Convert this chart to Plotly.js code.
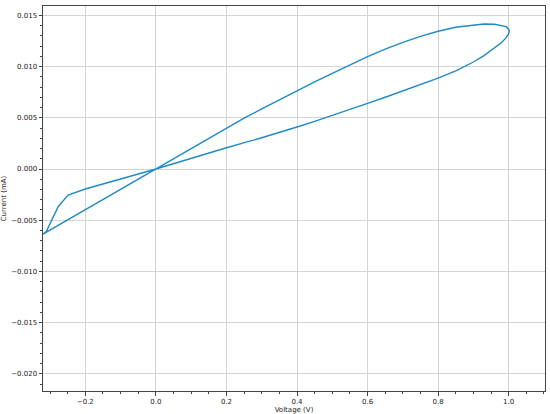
<!DOCTYPE html>
<html>
<head>
<meta charset="utf-8">
<script src="https://cdn.plot.ly/plotly-3.0.1.min.js"></script>
<style>
  html, body { margin: 0; padding: 0; background: #fff; }
  #plotArea { width: 550px; height: 414px; }
</style>
</head>
<body>
<div id="plotArea"></div>
<script>
// sweep up (forward branch) then back down (return branch)
let voltage = [
  -0.32, -0.2, 0.0, 0.1, 0.2, 0.25, 0.3, 0.35, 0.4, 0.45, 0.5, 0.55, 0.6, 0.65, 0.7, 0.75, 0.8, 0.85,
  0.9, 0.93, 0.96, 0.98, 0.993, 1.0, 1.002,
  0.999, 0.993, 0.98, 0.96, 0.93, 0.9, 0.85, 0.8, 0.75, 0.7, 0.65, 0.6, 0.55, 0.5, 0.45,
  0.4, 0.3, 0.2, 0.1, 0.0, -0.2,
  -0.249, -0.277, -0.311, -0.32
];
let current = [
  -0.00635, -0.00397, 0.0, 0.00201, 0.00403, 0.00496, 0.00587, 0.00677, 0.00765, 0.00851, 0.00935, 0.01017, 0.01097, 0.01171, 0.01237, 0.01295, 0.01345, 0.01385,
  0.01408, 0.01416, 0.01414, 0.01403, 0.0139, 0.01365, 0.01345,
  0.01315, 0.01283, 0.01235, 0.01182, 0.01108, 0.01045, 0.00958, 0.00888, 0.00824, 0.00762, 0.00701, 0.00641, 0.00581, 0.00523, 0.00466,
  0.0041, 0.00305, 0.00208, 0.00104, 0.0, -0.00195,
  -0.00254, -0.00368, -0.00612, -0.00635
];

let xTicks = [-0.2, 0.0, 0.2, 0.4, 0.6, 0.8, 1.0];
let yTicks = [-0.020, -0.015, -0.010, -0.005, 0.000, 0.005, 0.010, 0.015];

let trace = {
  x: voltage,
  y: current,
  mode: "lines",
  type: "scatter",
  line: { color: "#1f8ac8", width: 1.4 },
  hoverinfo: "x+y"
};

let axisStyle = {
  showline: true,
  mirror: true,
  linecolor: "#444",
  linewidth: 1,
  ticks: "outside",
  ticklen: 3.5,
  tickcolor: "#444",
  showgrid: true,
  gridcolor: "#d4d4d4",
  gridwidth: 1,
  zeroline: false,
  tickfont: { family: "DejaVu Sans", size: 7, color: "#222" }
};

let layout = {
  width: 550,
  height: 414,
  margin: { l: 43, r: 5, t: 6, b: 23 },
  paper_bgcolor: "#fff",
  plot_bgcolor: "#fff",
  showlegend: false,
  xaxis: Object.assign({}, axisStyle, {
    range: [-0.32, 1.103],
    tickmode: "array",
    tickvals: xTicks,
    ticktext: xTicks.map(v => v.toFixed(1).replace("-", "\u2212")),
    minor: { dtick: 0.05, tick0: 0, ticks: "outside", ticklen: 2, tickcolor: "#444", showgrid: false },
    title: { text: "Voltage (V)", font: { family: "DejaVu Sans", size: 7, color: "#222" }, standoff: 3 }
  }),
  yaxis: Object.assign({}, axisStyle, {
    range: [-0.02168, 0.01592],
    tickmode: "array",
    tickvals: yTicks,
    ticktext: yTicks.map(v => v.toFixed(3).replace("-", "\u2212")),
    minor: { dtick: 0.001, tick0: 0, ticks: "outside", ticklen: 2, tickcolor: "#444", showgrid: false },
    title: { text: "Current (mA)", font: { family: "DejaVu Sans", size: 7, color: "#222" }, standoff: 4 }
  })
};

Plotly.newPlot("plotArea", [trace], layout, { displayModeBar: false, staticPlot: true });
</script>
</body>
</html>
